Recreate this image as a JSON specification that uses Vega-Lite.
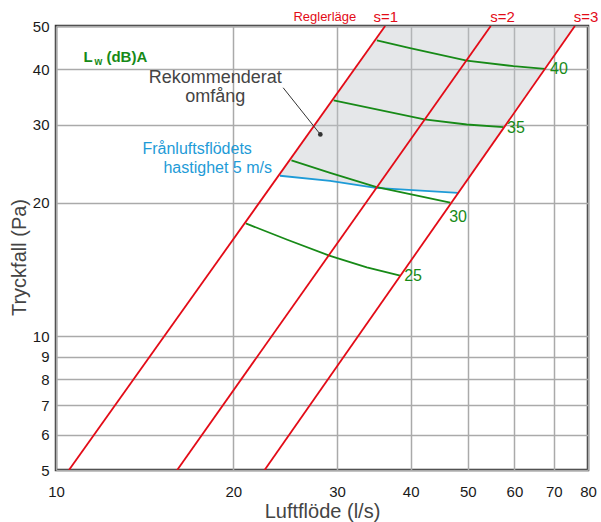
{
  "$schema": "https://vega.github.io/schema/vega-lite/v6.json",
  "width": 532,
  "height": 444,
  "autosize": {"type": "none"},
  "padding": {"left": 56, "top": 26, "right": 13, "bottom": 52},
  "background": "white",
  "config": {
    "font": "Liberation Sans",
    "view": {"stroke": "#333333", "strokeWidth": 2.5},
    "axis": {
      "labelFont": "Liberation Sans",
      "titleFont": "Liberation Sans",
      "labelFontSize": 15,
      "labelColor": "#1a1a1a",
      "titleFontSize": 20,
      "titleFontWeight": "normal",
      "titleColor": "#444444",
      "grid": true,
      "gridColor": "#aaaaaa",
      "gridWidth": 1.5,
      "gridOpacity": 1,
      "domain": false,
      "ticks": false
    }
  },
  "datasets": {
    "red": [
      {"s": "s=1", "x": 10.52, "y": 5}, {"s": "s=1", "x": 36.2, "y": 50},
      {"s": "s=2", "x": 16.06, "y": 5}, {"s": "s=2", "x": 54.7, "y": 50},
      {"s": "s=3", "x": 22.6, "y": 5}, {"s": "s=3", "x": 76.0, "y": 50}
    ],
    "area": [
      {"y": 21.05, "xl": 48.1, "xr": 48.2},
      {"y": 21.6, "xl": 34.9, "xr": 48.8},
      {"y": 22.4, "xl": 29.2, "xr": 49.8},
      {"y": 23.0, "xl": 23.9, "xr": 50.5},
      {"y": 50, "xl": 36.2, "xr": 76.0}
    ],
    "green": [
      {"lw": 40, "x": 35.05, "y": 46.4}, {"lw": 40, "x": 39.9, "y": 44.6}, {"lw": 40, "x": 49.8, "y": 41.8}, {"lw": 40, "x": 59.8, "y": 40.6}, {"lw": 40, "x": 67.6, "y": 40.05},
      {"lw": 35, "x": 29.6, "y": 34.0}, {"lw": 35, "x": 42.2, "y": 30.8}, {"lw": 35, "x": 49.8, "y": 30.0}, {"lw": 35, "x": 57.5, "y": 29.6},
      {"lw": 30, "x": 25.1, "y": 24.9}, {"lw": 30, "x": 29.2, "y": 23.35}, {"lw": 30, "x": 34.9, "y": 21.7}, {"lw": 30, "x": 39.9, "y": 20.9}, {"lw": 30, "x": 46.7, "y": 20.0},
      {"lw": 25, "x": 21.0, "y": 17.96}, {"lw": 25, "x": 24.7, "y": 16.5}, {"lw": 25, "x": 29.1, "y": 15.2}, {"lw": 25, "x": 33.7, "y": 14.3}, {"lw": 25, "x": 38.4, "y": 13.7}
    ],
    "blue": [
      {"x": 24.0, "y": 23.0}, {"x": 29.2, "y": 22.4}, {"x": 34.9, "y": 21.6}, {"x": 48.1, "y": 21.05}
    ],
    "greenLabels": [
      {"t": "40", "x": 68.96, "y": 40.0},
      {"t": "35", "x": 58.3, "y": 29.45},
      {"t": "30", "x": 46.5, "y": 18.6},
      {"t": "25", "x": 39.0, "y": 13.7}
    ],
    "sLabels": [
      {"t": "s=1", "x": 36.3, "y": 52.3},
      {"t": "s=2", "x": 57.3, "y": 52.3},
      {"t": "s=3", "x": 79.4, "y": 52.3}
    ],
    "reg": [{"t": "Reglerläge", "x": 28.6, "y": 52.3}],
    "grey": [
      {"t": "Rekommenderat", "x": 18.64, "y": 37.3},
      {"t": "omfång", "x": 18.64, "y": 33.8}
    ],
    "blueText": [
      {"t": "Frånluftsflödets", "x": 14.02, "y": 25.7},
      {"t": "hastighet 5 m/s", "x": 15.22, "y": 23.3}
    ],
    "lwBig": [
      {"t": "L", "x": 11.13, "y": 41.5},
      {"t": "(dB)A", "x": 12.18, "y": 41.5}
    ],
    "lwSub": [{"t": "w", "x": 11.62, "y": 40.95}],
    "pointer": [{"x": 24.3, "y": 36.3, "x2": 28.1, "y2": 28.5}],
    "dot": [{"x": 28.1, "y": 28.5}]
  },
  "layer": [
    {
      "data": {"name": "area"},
      "mark": {"type": "area", "orient": "horizontal", "fill": "#bfc3c9", "fillOpacity": 0.4, "clip": true},
      "encoding": {
        "y": {"field": "y", "type": "quantitative", "scale": {"type": "log", "domain": [5, 50], "nice": false},
              "axis": {"values": [5, 6, 7, 8, 9, 10, 20, 30, 40, 50], "labelPadding": 7, "title": "Tryckfall (Pa)", "titleX": -31, "titleY": 231, "titleAngle": -90, "titleAlign": "center", "titleBaseline": "alphabetic"}},
        "x": {"field": "xl", "type": "quantitative", "scale": {"type": "log", "domain": [10, 80], "nice": false},
              "axis": {"values": [10, 20, 30, 40, 50, 60, 70, 80], "labelPadding": 14, "labelFlush": false, "title": "Luftflöde (l/s)", "titleX": 266, "titleY": 47, "titleAlign": "center", "titleBaseline": "alphabetic"}},
        "x2": {"field": "xr"}
      }
    },
    {
      "data": {"name": "blue"},
      "mark": {"type": "line", "color": "#1e9bd7", "strokeWidth": 1.8, "clip": true},
      "encoding": {
        "x": {"field": "x", "type": "quantitative"},
        "y": {"field": "y", "type": "quantitative"}
      }
    },
    {
      "data": {"name": "green"},
      "mark": {"type": "line", "color": "#178a17", "strokeWidth": 1.8, "clip": true},
      "encoding": {
        "x": {"field": "x", "type": "quantitative"},
        "y": {"field": "y", "type": "quantitative"},
        "detail": {"field": "lw", "type": "nominal"}
      }
    },
    {
      "data": {"name": "red"},
      "mark": {"type": "line", "color": "#e30b17", "strokeWidth": 1.8, "clip": true},
      "encoding": {
        "x": {"field": "x", "type": "quantitative"},
        "y": {"field": "y", "type": "quantitative"},
        "detail": {"field": "s", "type": "nominal"}
      }
    },
    {
      "data": {"name": "pointer"},
      "mark": {"type": "rule", "color": "#333333", "strokeWidth": 1},
      "encoding": {
        "x": {"field": "x", "type": "quantitative"},
        "y": {"field": "y", "type": "quantitative"},
        "x2": {"field": "x2"},
        "y2": {"field": "y2"}
      }
    },
    {
      "data": {"name": "dot"},
      "mark": {"type": "point", "filled": true, "color": "#333333", "size": 22, "opacity": 1},
      "encoding": {
        "x": {"field": "x", "type": "quantitative"},
        "y": {"field": "y", "type": "quantitative"}
      }
    },
    {
      "data": {"name": "greenLabels"},
      "mark": {"type": "text", "align": "left", "baseline": "middle", "fontSize": 16, "color": "#178a17"},
      "encoding": {
        "x": {"field": "x", "type": "quantitative"},
        "y": {"field": "y", "type": "quantitative"},
        "text": {"field": "t"}
      }
    },
    {
      "data": {"name": "sLabels"},
      "mark": {"type": "text", "align": "center", "baseline": "middle", "fontSize": 15, "color": "#e30b17"},
      "encoding": {
        "x": {"field": "x", "type": "quantitative"},
        "y": {"field": "y", "type": "quantitative"},
        "text": {"field": "t"}
      }
    },
    {
      "data": {"name": "reg"},
      "mark": {"type": "text", "align": "center", "baseline": "middle", "fontSize": 13, "color": "#e30b17"},
      "encoding": {
        "x": {"field": "x", "type": "quantitative"},
        "y": {"field": "y", "type": "quantitative"},
        "text": {"field": "t"}
      }
    },
    {
      "data": {"name": "grey"},
      "mark": {"type": "text", "align": "center", "baseline": "alphabetic", "fontSize": 18, "color": "#444444"},
      "encoding": {
        "x": {"field": "x", "type": "quantitative"},
        "y": {"field": "y", "type": "quantitative"},
        "text": {"field": "t"}
      }
    },
    {
      "data": {"name": "blueText"},
      "mark": {"type": "text", "align": "left", "baseline": "alphabetic", "fontSize": 16, "color": "#1e9bd7"},
      "encoding": {
        "x": {"field": "x", "type": "quantitative"},
        "y": {"field": "y", "type": "quantitative"},
        "text": {"field": "t"}
      }
    },
    {
      "data": {"name": "lwBig"},
      "mark": {"type": "text", "align": "left", "baseline": "alphabetic", "fontSize": 15, "fontWeight": "bold", "color": "#178a17"},
      "encoding": {
        "x": {"field": "x", "type": "quantitative"},
        "y": {"field": "y", "type": "quantitative"},
        "text": {"field": "t"}
      }
    },
    {
      "data": {"name": "lwSub"},
      "mark": {"type": "text", "align": "left", "baseline": "alphabetic", "fontSize": 10, "fontWeight": "bold", "color": "#178a17"},
      "encoding": {
        "x": {"field": "x", "type": "quantitative"},
        "y": {"field": "y", "type": "quantitative"},
        "text": {"field": "t"}
      }
    }
  ]
}
